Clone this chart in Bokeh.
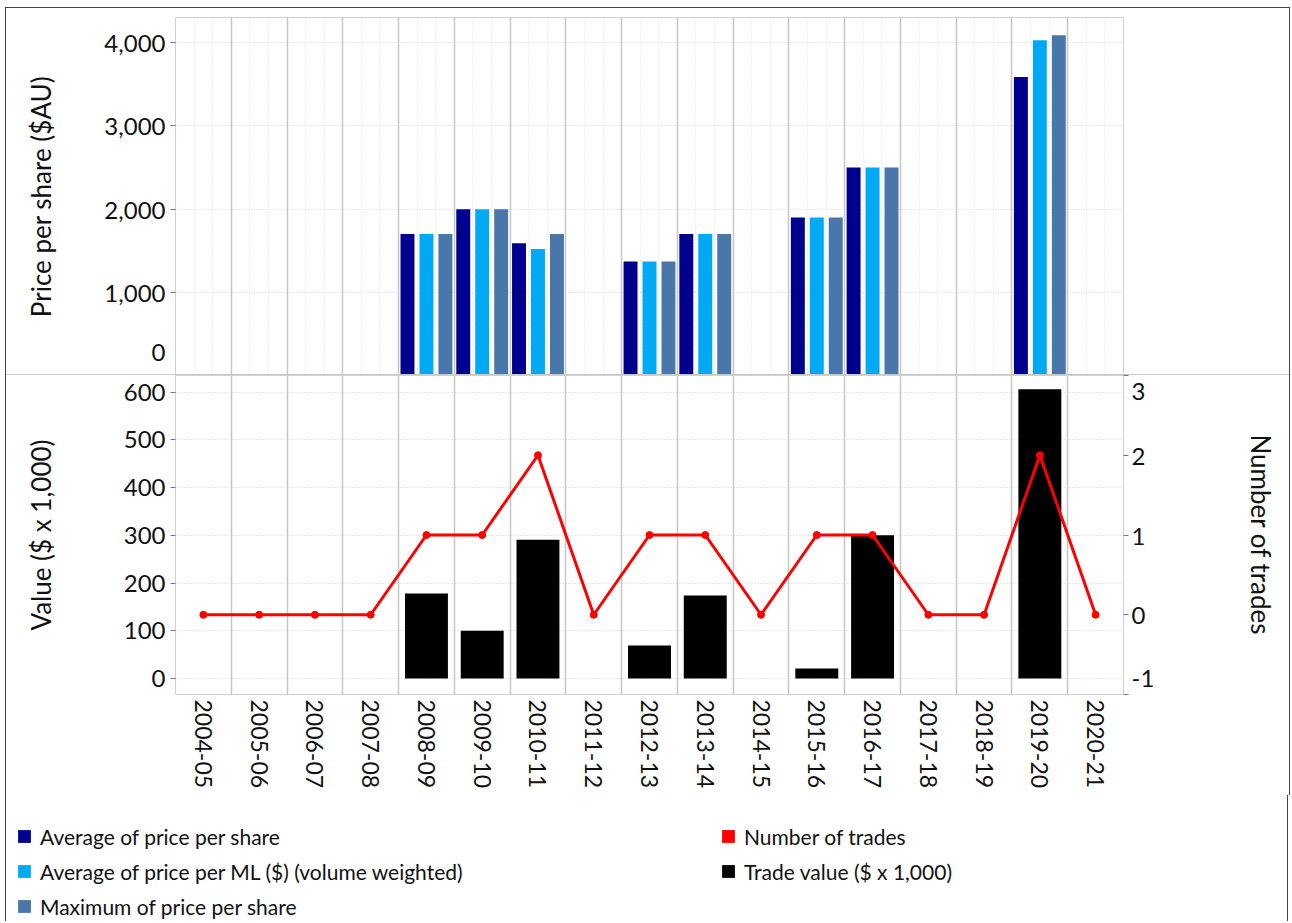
from bokeh.plotting import figure
from bokeh.models import (ColumnDataSource, Range1d, LinearAxis, FixedTicker, NumeralTickFormatter,
                          Grid, Legend, LegendItem)
from bokeh.layouts import column
from bokeh.transform import dodge
from bokeh.embed import file_html
from bokeh.resources import INLINE

# ---------------- data ----------------
seasons = ["2004-05", "2005-06", "2006-07", "2007-08", "2008-09", "2009-10", "2010-11",
           "2011-12", "2012-13", "2013-14", "2014-15", "2015-16", "2016-17", "2017-18",
           "2018-19", "2019-20", "2020-21"]
avg_price_per_share = [None, None, None, None, 1700, 2000, 1590, None, 1370, 1700, None,
                       1900, 2500, None, None, 3590, None]
avg_price_per_ml = [None, None, None, None, 1700, 2000, 1520, None, 1370, 1700, None,
                    1900, 2500, None, None, 4030, None]
max_price_per_share = [None, None, None, None, 1700, 2000, 1700, None, 1370, 1700, None,
                       1900, 2500, None, None, 4090, None]
trade_value = [None, None, None, None, 178, 100, 291, None, 69, 174, None,
               21, 300, None, None, 606, None]
number_of_trades = [0, 0, 0, 0, 1, 1, 2, 0, 1, 1, 0, 1, 1, 0, 0, 2, 0]

price_ticks = [0, 1000, 2000, 3000, 4000]
value_ticks = [0, 100, 200, 300, 400, 500, 600]
trade_ticks = [-1, 0, 1, 2, 3]

# ---------------- style ----------------
FONT = "Lato"
TXT = "#111111"
C_AVG = "#00008F"
C_ML = "#00A9F4"
C_MAX = "#4A77A9"
GRID_SOLID = "#c6c6c6"
GRID_DOT = "#d2d2d2"
FRAME_LINE = "#d0d0d0"
BORDER = "1px solid #444444"
NB = "\u00a0"
FW = 948
LB, RB = 169, 166
TOTAL_W = LB + FW + RB

idx = list(range(len(seasons)))
boundaries = [i - 0.5 for i in idx] + [idx[-1] + 0.5]
minor_lines = [i - 0.5 + k / 3 for i in idx for k in (1, 2)]

price_rows = [i for i in idx if avg_price_per_share[i] is not None]
price_src = ColumnDataSource(dict(
    idx=price_rows,
    avg=[avg_price_per_share[i] for i in price_rows],
    ml=[avg_price_per_ml[i] for i in price_rows],
    mx=[max_price_per_share[i] for i in price_rows],
))
value_rows = [i for i in idx if trade_value[i] is not None]
value_src = ColumnDataSource(dict(idx=value_rows, value=[trade_value[i] for i in value_rows]))
trades_src = ColumnDataSource(dict(idx=idx, n=number_of_trades))


def style_axis(ax, label_standoff=45):
    ax.major_label_text_font = FONT
    ax.major_label_text_font_size = "24px"
    ax.major_label_text_color = TXT
    ax.axis_label_text_font = FONT
    ax.axis_label_text_font_size = "26px"
    ax.axis_label_text_font_style = "normal"
    ax.axis_label_text_color = TXT
    ax.axis_line_color = None
    ax.major_tick_line_color = "#777777"
    ax.major_tick_out = 5
    ax.major_tick_in = 0
    ax.minor_tick_line_color = None
    ax.major_label_standoff = 5
    ax.axis_label_standoff = label_standoff


# ---------------- top panel ----------------
TOP_H = 9 + 358
top = figure(width=TOTAL_W, height=TOP_H,
             min_border_left=LB, min_border_right=RB, min_border_top=9, min_border_bottom=0,
             x_range=Range1d(-0.5, len(seasons) - 0.5), y_range=Range1d(0, 4304),
             x_axis_location=None, toolbar_location=None, output_backend="svg",
             outline_line_color=FRAME_LINE, background_fill_color="white",
             border_fill_color="white", styles={"border-bottom": "1px solid #c8c8c8"})
top.xgrid.visible = False
top.add_layout(Grid(dimension=0, ticker=FixedTicker(ticks=boundaries, minor_ticks=minor_lines),
                    grid_line_color=GRID_SOLID, grid_line_width=1.5,
                    minor_grid_line_color="#dedede", minor_grid_line_dash="1 2"))
top.ygrid.ticker = FixedTicker(ticks=price_ticks)
top.ygrid.grid_line_color = GRID_DOT
top.ygrid.grid_line_dash = "1 2"

top.vbar(x=dodge("idx", -0.34), top="avg", width=0.25, source=price_src,
         fill_color=C_AVG, line_color=None)
top.vbar(x=dodge("idx", 0.0), top="ml", width=0.25, source=price_src,
         fill_color=C_ML, line_color=None)
top.vbar(x=dodge("idx", 0.34), top="mx", width=0.25, source=price_src,
         fill_color=C_MAX, line_color=None)

top.yaxis.ticker = FixedTicker(ticks=price_ticks)
top.yaxis.formatter = NumeralTickFormatter(format="0,0")
top.yaxis.axis_label = "Price per share ($AU)"
style_axis(top.yaxis[0], 44)
# bottom edge label lifted a little (short second line) so it sits inside the panel
top.yaxis.major_label_overrides = {price_ticks[0]: "0\n" + NB}
top.yaxis.major_label_text_line_height = 0.3

# ---------------- bottom panel ----------------
BOT_H = 319 + 101
bot = figure(width=TOTAL_W, height=BOT_H,
             min_border_left=LB, min_border_right=RB, min_border_top=0, min_border_bottom=101,
             x_range=Range1d(-0.5, len(seasons) - 0.5), y_range=Range1d(-33.5, 635),
             toolbar_location=None, output_backend="svg",
             outline_line_color=FRAME_LINE, background_fill_color="white",
             border_fill_color="white")
bot.extra_y_ranges = {"trades": Range1d(-1, 3)}
bot.xgrid.visible = False
bot.add_layout(Grid(dimension=0, ticker=FixedTicker(ticks=boundaries),
                    grid_line_color=GRID_SOLID, grid_line_width=1.5))
bot.ygrid.ticker = FixedTicker(ticks=value_ticks)
bot.ygrid.grid_line_color = GRID_DOT
bot.ygrid.grid_line_dash = "1 2"

bot.vbar(x="idx", top="value", bottom=0, width=0.77, source=value_src,
         fill_color="black", line_color=None)
bot.line("idx", "n", source=trades_src, y_range_name="trades", line_color="#FF0000",
         line_width=3)
bot.scatter("idx", "n", source=trades_src, y_range_name="trades", size=7,
            fill_color="#FF0000", line_color="#FF0000")

bot.yaxis.ticker = FixedTicker(ticks=value_ticks)
bot.yaxis.axis_label = "Value ($ x 1,000)"
style_axis(bot.yaxis[0], 64)

raxis = LinearAxis(y_range_name="trades", ticker=FixedTicker(ticks=trade_ticks),
                   axis_label="Number of trades")
style_axis(raxis, 88)
raxis.major_label_standoff = 3
# bottom edge label nudged up (multi-line trick) so it sits inside the panel
raxis.major_label_overrides = {trade_ticks[0]: "-1\n" + NB}
raxis.axis_label_orientation = "vertical"
bot.add_layout(raxis, "right")

bot.xaxis.ticker = FixedTicker(ticks=idx)
bot.xaxis.major_label_overrides = {i: s for i, s in zip(idx, seasons)}
bot.xaxis.major_label_orientation = "vertical"
style_axis(bot.xaxis[0], 0)
bot.xaxis.major_label_text_font_size = "23px"
bot.xaxis.major_tick_line_color = None
bot.xaxis.major_tick_out = 0
bot.xaxis.major_label_standoff = 5

charts = column(top, bot, spacing=0,
                styles={"margin-left": "5px", "margin-top": "7px", "border-top": BORDER,
                        "border-left": BORDER, "border-right": BORDER})

# ---------------- legend panel (separate root, frame = whole canvas) ----------------
LEG_H = 126
leg = figure(width=TOTAL_W, height=LEG_H, x_range=Range1d(0, 1), y_range=Range1d(0, 1),
             x_axis_location=None, y_axis_location=None, min_border=0,
             min_border_left=0, min_border_right=0, min_border_top=0, min_border_bottom=0,
             toolbar_location=None, output_backend="svg", outline_line_color=None,
             background_fill_color="white", border_fill_color="white",
             styles={"margin-left": "5px", "border-left": BORDER, "border-right": BORDER})
leg.grid.visible = False
off = dict(x=[-5], y=[-5], marker="square", line_color=None)
r_avg = leg.scatter(fill_color=C_AVG, **off)
r_ml = leg.scatter(fill_color=C_ML, **off)
r_max = leg.scatter(fill_color=C_MAX, **off)
r_n = leg.scatter(fill_color="#FF0000", **off)
r_v = leg.scatter(fill_color="black", **off)


def make_legend(items, loc):
    return Legend(items=items, location=loc, orientation="vertical",
                  label_text_font=FONT, label_text_font_size="21px", label_text_color=TXT,
                  glyph_width=32, glyph_height=32, label_height=32, label_standoff=0,
                  spacing=3, padding=0, margin=0, border_line_color=None,
                  background_fill_alpha=0)


leg.add_layout(make_legend([
    LegendItem(label="Average of price per share", renderers=[r_avg]),
    LegendItem(label="Average of price per ML ($) (volume weighted)", renderers=[r_ml]),
    LegendItem(label="Maximum of price per share", renderers=[r_max]),
], (2, -1)))
leg.add_layout(make_legend([
    LegendItem(label="Number of trades", renderers=[r_n]),
    LegendItem(label="Trade value ($ x 1,000)", renderers=[r_v]),
], (706, 34)))

open("out.html", "w").write(file_html([charts, leg], INLINE))
